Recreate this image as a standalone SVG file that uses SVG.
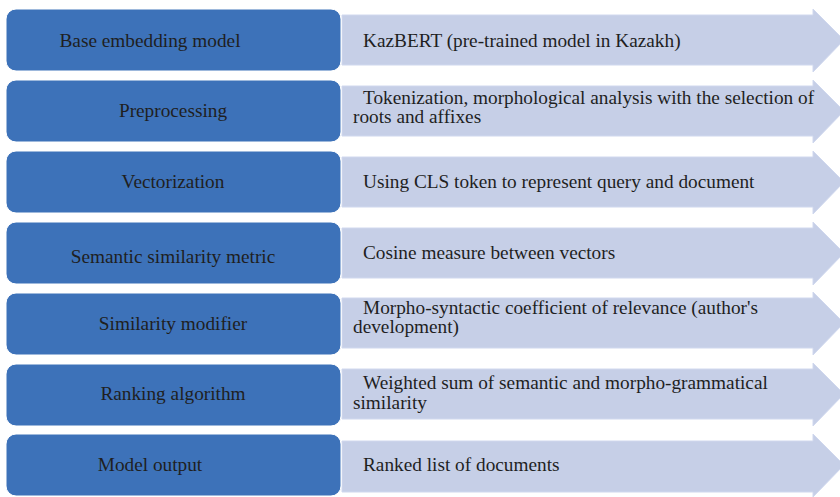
<svg xmlns="http://www.w3.org/2000/svg" width="840" height="497" viewBox="0 0 840 497">
<style>
.box{fill:#3d72b9;stroke:#ffffff;stroke-width:1}
.arr{fill:#c6cfe7;stroke:#d0d8ee;stroke-width:1}
.lt{font-family:"Liberation Serif","Times New Roman",serif;font-size:19.3px;fill:#1f1f1f;text-anchor:middle}
.rt{font-family:"Liberation Serif","Times New Roman",serif;font-size:19.3px;fill:#1f1f1f}
</style>
<rect width="840" height="497" fill="#ffffff"/>
<g id="connectors">
<polygon class="arr" points="342,15 813,15 813,9 844,40 813,72 813,65 342,65"/>
<polygon class="arr" points="342,86 813,86 813,80 844,111 813,143 813,136 342,136"/>
<polygon class="arr" points="342,157 813,157 813,151 844,182 813,214 813,207 342,207"/>
<polygon class="arr" points="342,228 813,228 813,222 844,253 813,285 813,278 342,278"/>
<polygon class="arr" points="342,298 813,298 813,292 844,323 813,355 813,348 342,348"/>
<polygon class="arr" points="342,369 813,369 813,363 844,394 813,426 813,419 342,419"/>
<polygon class="arr" points="342,441 813,441 813,434 844,465 813,497 813,492 342,492"/>
</g>
<g id="n1"><rect class="box" x="6" y="9" width="335" height="62" rx="10"/><text class="lt" x="150" y="47">Base embedding model</text></g>
<g id="d1"><text class="rt" x="363" y="47">KazBERT (pre-trained model in Kazakh)</text></g>
<g id="n2"><rect class="box" x="6" y="80" width="335" height="62" rx="10"/><text class="lt" x="173" y="117">Preprocessing</text></g>
<g id="d2"><text class="rt" x="363" y="104">Tokenization, morphological analysis with the selection of</text><text class="rt" x="353" y="123">roots and affixes</text></g>
<g id="n3"><rect class="box" x="6" y="151" width="335" height="62" rx="10"/><text class="lt" x="173" y="188">Vectorization</text></g>
<g id="d3"><text class="rt" x="363" y="188">Using CLS token to represent query and document</text></g>
<g id="n4"><rect class="box" x="6" y="222" width="335" height="62" rx="10"/><text class="lt" x="173" y="263">Semantic similarity metric</text></g>
<g id="d4"><text class="rt" x="363" y="259">Cosine measure between vectors</text></g>
<g id="n5"><rect class="box" x="6" y="293" width="335" height="62" rx="10"/><text class="lt" x="173" y="330">Similarity modifier</text></g>
<g id="d5"><text class="rt" x="363" y="314">Morpho-syntactic coefficient of relevance (author's</text><text class="rt" x="353" y="333">development)</text></g>
<g id="n6"><rect class="box" x="6" y="364" width="335" height="62" rx="10"/><text class="lt" x="173" y="400">Ranking algorithm</text></g>
<g id="d6"><text class="rt" x="363" y="389">Weighted sum of semantic and morpho-grammatical</text><text class="rt" x="353" y="409">similarity</text></g>
<g id="n7"><rect class="box" x="6" y="434" width="335" height="62" rx="10"/><text class="lt" x="150" y="471">Model output</text></g>
<g id="d7"><text class="rt" x="363" y="471">Ranked list of documents</text></g>
</svg>
